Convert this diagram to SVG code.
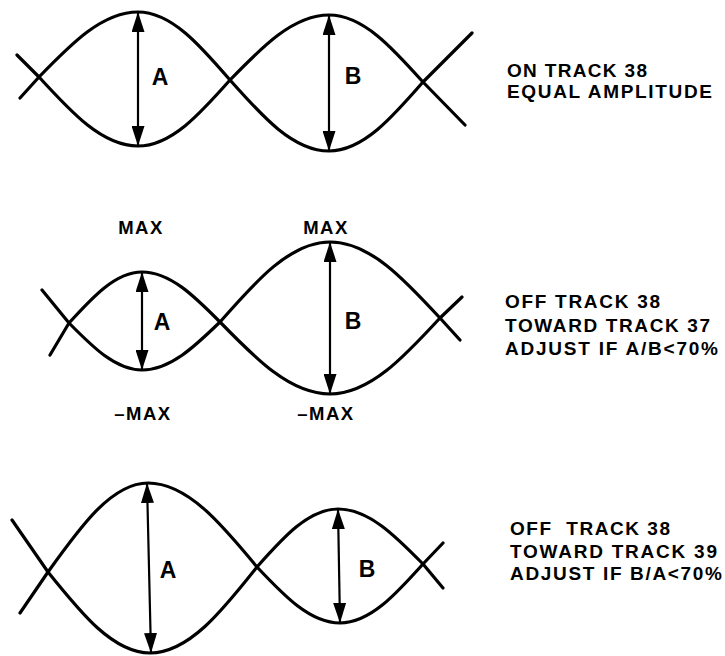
<svg xmlns="http://www.w3.org/2000/svg" width="725" height="656" viewBox="0 0 725 656">
<style>
.wave{fill:none;stroke:#000;stroke-width:3.2;stroke-linejoin:round;stroke-linecap:round}
.arr{stroke:#000;stroke-width:2.2;marker-start:url(#ah);marker-end:url(#ah)}
.lbl{font-family:"Liberation Sans",Arial,sans-serif;font-weight:bold;font-size:23px;text-anchor:middle;fill:#000}
.max{font-family:"Liberation Sans",Arial,sans-serif;font-weight:bold;font-size:18.5px;text-anchor:middle;fill:#000;letter-spacing:1.5px}
.note{font-family:"Liberation Sans",Arial,sans-serif;font-weight:bold;font-size:19px;fill:#000;white-space:pre}
</style>
<defs>
<marker id="ah" markerWidth="21" markerHeight="13" refX="20" refY="6.5" orient="auto-start-reverse" markerUnits="userSpaceOnUse">
<path d="M0,0 L20,6.5 L0,13 Z" fill="#000"/>
</marker>
</defs>

<g id="wave-on-track">
<path class="wave" d="M17,55 L39,77 C71.3,112.3 102.2,146 138,146 C171.3,146 200,113.8 230,80 C262.3,46.7 293.2,15 329,15 C363,15 392.3,47.7 423,82 L472,33"/>
<path class="wave" d="M20,98 L39,77 C71.3,43.7 102.2,12 138,12 C171.3,12 200,45.2 230,80 C262.3,116.4 293.2,151 329,151 C363,151 392.3,117.3 423,82 L465,125"/>
<text class="lbl" x="160" y="85">A</text>
<text class="lbl" x="353" y="84">B</text>
</g>

<g id="wave-toward-37">
<path class="wave" d="M42,290 L69,323 C92.8,347.1 115.6,370 142,370 C170.2,370 194.6,346.6 220,322 C255.9,281 290.2,242 330,242 C369.8,242 404.1,279.1 440,318 L462,297"/>
<path class="wave" d="M50,355 L69,323 C92.8,296.9 115.6,272 142,272 C170.2,272 194.6,296.4 220,322 C255.9,358.9 290.2,394 330,394 C369.8,394 404.1,356.9 440,318 L460,340"/>
<text class="lbl" x="162" y="330">A</text>
<text class="lbl" x="353" y="329">B</text>
<text class="max" x="141" y="234">MAX</text>
<text class="max" x="326" y="234">MAX</text>
<text class="max" x="143" y="420">–MAX</text>
<text class="max" x="326" y="420">–MAX</text>
</g>

<g id="wave-toward-39">
<path class="wave" d="M12,520 L48,572 C81.3,613.5 113.1,653 150,653 C188.7,653 222.1,611.1 257,567 C283.4,537.3 308.7,509 338,509 C368.8,509 395.3,535.8 423,564 L443,543"/>
<path class="wave" d="M20,613 L48,572 C80.6,526.4 111.8,483 148,483 C187.4,483 221.5,524 257,567 C284.1,595.7 310,623 340,623 C370,623 395.9,594.2 423,564 L443,588"/>
<text class="lbl" x="168" y="578">A</text>
<text class="lbl" x="367" y="577">B</text>
</g>

<g id="connectors">
<line class="arr" x1="138" y1="12" x2="138" y2="146"/>
<line class="arr" x1="329" y1="15" x2="329" y2="151"/>
<line class="arr" x1="142" y1="272" x2="142" y2="370"/>
<line class="arr" x1="330" y1="242" x2="330" y2="394"/>
<line class="arr" x1="147" y1="483" x2="151" y2="653"/>
<line class="arr" x1="338" y1="509" x2="340" y2="623"/>
</g>

<g id="note-on-track">
<text class="note" x="507" y="77" textLength="140" lengthAdjust="spacing">ON TRACK 38</text>
<text class="note" x="507" y="98" textLength="205" lengthAdjust="spacing">EQUAL AMPLITUDE</text>
</g>
<g id="note-toward-37">
<text class="note" x="505" y="308" textLength="155" lengthAdjust="spacing">OFF TRACK 38</text>
<text class="note" x="505" y="332" textLength="205" lengthAdjust="spacing">TOWARD TRACK 37</text>
<text class="note" x="505" y="355" textLength="213" lengthAdjust="spacing">ADJUST IF A/B&lt;70%</text>
</g>
<g id="note-toward-39">
<text class="note" x="510" y="535" textLength="160" lengthAdjust="spacing">OFF  TRACK 38</text>
<text class="note" x="510" y="558" textLength="207" lengthAdjust="spacing">TOWARD TRACK 39</text>
<text class="note" x="510" y="580" textLength="212" lengthAdjust="spacing">ADJUST IF B/A&lt;70%</text>
</g>
</svg>
